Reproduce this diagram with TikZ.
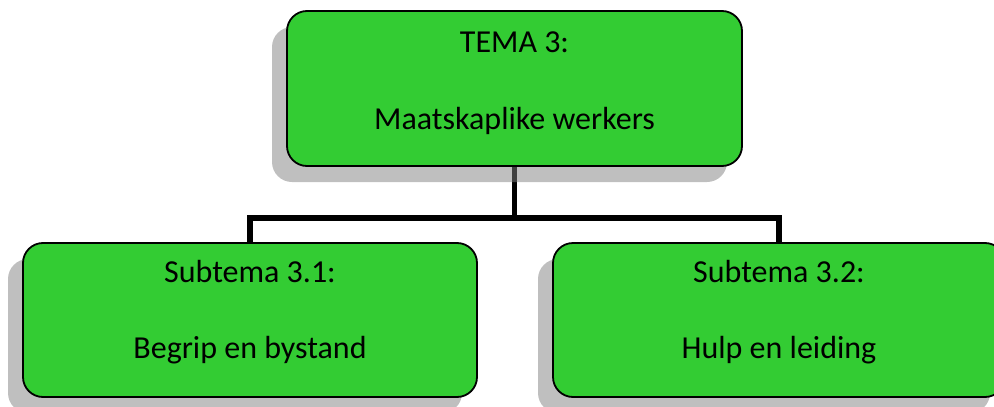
\documentclass[tikz,border=0pt]{standalone}
\usepackage{fontspec}
\setmainfont{Carlito}
\usetikzlibrary{shadows,backgrounds}
\definecolor{boxgreen}{HTML}{33CC33}
\tikzset{
  topic/.style={rectangle, rounded corners=20pt, draw=black, line width=1.8pt,
    fill=boxgreen, inner sep=0pt, minimum height=155pt,
    drop shadow={shadow xshift=-15pt, shadow yshift=-16pt, fill=gray, opacity=0.5}},
  caption/.style={anchor=base, font=\fontsize{32}{38}\selectfont, inner sep=0pt},
  conn/.style={line width=5.5pt, draw=black, line join=miter}
}
\begin{document}
\begin{tikzpicture}[x=1pt, y=-1pt]
  \useasboundingbox (0,0) rectangle (994,407);

  % boxes
  \node[topic, minimum width=455pt] (tema) at (514.5,88.5) {};
  \node[topic, minimum width=454pt, minimum height=154pt] (sub1) at (250,320) {};
  \node[topic, minimum width=452pt, minimum height=154pt] (sub2) at (779,320) {};

  % labels
  \node[caption] (temaA) at (514.5,52) {TEMA 3:};
  \node[caption] (temaB) at (514.5,129) {Maatskaplike werkers};
  \node[caption] (sub1A) at (250,282) {Subtema 3.1:};
  \node[caption] (sub1B) at (250,358) {Begrip en bystand};
  \node[caption] (sub2A) at (779,282) {Subtema 3.2:};
  \node[caption] (sub2B) at (779,358) {Hulp en leiding};

  % tree connectors, kept under the shadows
  \coordinate (bar) at (0,218);
  \begin{pgfonlayer}{background}
    \draw[conn] (tema.south) -- (tema.south |- bar);
    \draw[conn] (sub1.north) -- (sub1.north |- bar) -- (sub2.north |- bar) -- (sub2.north);
  \end{pgfonlayer}
\end{tikzpicture}
\end{document}
